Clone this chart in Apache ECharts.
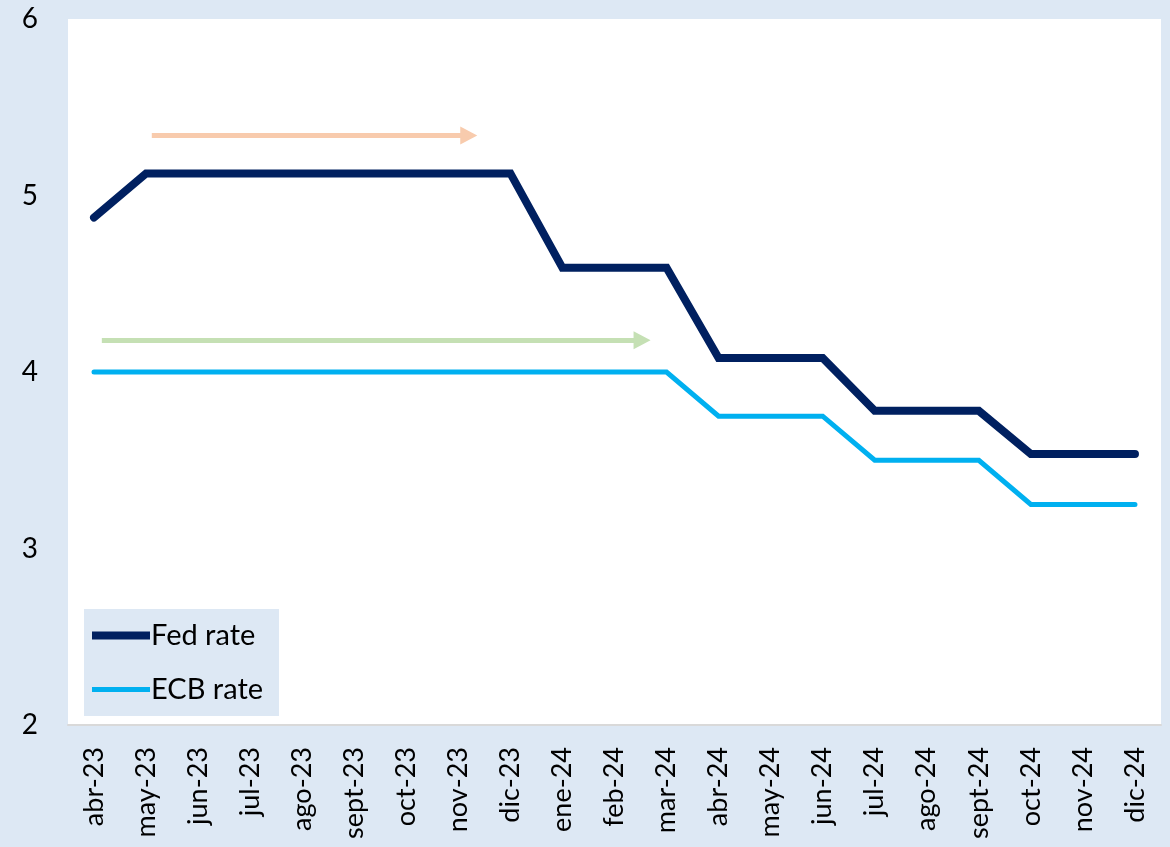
<!doctype html>
<html lang="es">
<head>
    <meta charset="UTF-8">
    <script type="text/javascript" src="https://cdn.jsdelivr.net/npm/echarts@6/dist/echarts.min.js"></script>
    <title>Fed vs ECB</title>
    <style>
        html, body { margin: 0; padding: 0; background: #dde8f4; }
    </style>
</head>
<body>
    <div id="main" style="width: 1170px;height:847px;"></div>
</body>
<script type="text/javascript">
    // meses
    var months = ['abr-23', 'may-23', 'jun-23', 'jul-23', 'ago-23', 'sept-23', 'oct-23', 'nov-23', 'dic-23',
        'ene-24', 'feb-24', 'mar-24', 'abr-24', 'may-24', 'jun-24', 'jul-24', 'ago-24', 'sept-24', 'oct-24', 'nov-24', 'dic-24'];
    var fedRate = [4.875, 5.125, 5.125, 5.125, 5.125, 5.125, 5.125, 5.125, 5.125,
        4.59, 4.59, 4.59, 4.08, 4.08, 4.08, 3.78, 3.78, 3.78, 3.535, 3.535, 3.535];
    var ecbRate = [4, 4, 4, 4, 4, 4, 4, 4, 4,
        4, 4, 4, 3.75, 3.75, 3.75, 3.5, 3.5, 3.5, 3.25, 3.25, 3.25];
    // flechas (indice de mes inicial, final, nivel)
    var orangeArrow = [1.11, 7.2, 5.34];
    var greenArrow = [0.15, 10.53, 4.18];

    var myChart = echarts.init(document.getElementById('main'));
    myChart.setOption({
        backgroundColor: '#dde8f4',
        textStyle: { fontFamily: 'Lato' },
        grid: {
            left: 68, right: 9, top: 19, bottom: 122,
            show: true, backgroundColor: '#ffffff', borderWidth: 0
        },
        legend: {
            left: 84, top: 609,
            orient: 'vertical',
            backgroundColor: '#dde8f4',
            padding: [12, 16, 12, 8],
            itemGap: 25,
            itemWidth: 58,
            itemHeight: 8,
            textStyle: { fontSize: 29, color: '#000', fontFamily: 'Lato', padding: [0, 0, 0, -4] },
            data: [
                { name: 'Fed rate', icon: 'path://M0,0 L58,0 L58,8 L0,8 Z', itemStyle: { color: '#002060' } },
                { name: 'ECB rate', icon: 'path://M0,1.5 L58,1.5 L58,6.5 L0,6.5 Z', itemStyle: { color: '#00b0f0' } }
            ]
        },
        xAxis: [
            {
                type: 'category',
                data: months,
                boundaryGap: true,
                axisLine: { show: true, lineStyle: { color: '#d9d9d9', width: 2 } },
                axisTick: { show: false },
                axisLabel: {
                    rotate: 90, interval: 0, fontSize: 27, color: '#000', margin: 22
                }
            },
            {
                type: 'value', min: -0.5, max: months.length - 0.5, show: false
            }
        ],
        yAxis: {
            type: 'value', min: 2, max: 6, interval: 1,
            axisLine: { show: false },
            axisTick: { show: false },
            splitLine: { show: false },
            axisLabel: { fontSize: 28, color: '#000', margin: 30, align: 'right' }
        },
        series: [
            {
                name: 'Fed rate', type: 'line', data: fedRate, symbol: 'none',
                lineStyle: { color: '#002060', width: 8, cap: 'round', join: 'miter' },
                itemStyle: { color: '#002060' }, z: 3
            },
            {
                name: 'ECB rate', type: 'line', data: ecbRate, symbol: 'none',
                lineStyle: { color: '#00b0f0', width: 5, cap: 'round', join: 'miter' },
                itemStyle: { color: '#00b0f0' }, z: 2
            },
            {
                name: 'arrows', type: 'line', xAxisIndex: 1, data: [], silent: true,
                markLine: {
                    silent: true,
                    symbol: ['none', 'triangle'],
                    symbolSize: [18, 17],
                    label: { show: false },
                    animation: false,
                    data: [
                        [
                            { coord: [orangeArrow[0], orangeArrow[2]], lineStyle: { color: '#f8cbad', width: 5, type: 'solid' } },
                            { coord: [orangeArrow[1], orangeArrow[2]] }
                        ],
                        [
                            { coord: [greenArrow[0], greenArrow[2]], lineStyle: { color: '#c5e0b4', width: 5, type: 'solid' } },
                            { coord: [greenArrow[1], greenArrow[2]] }
                        ]
                    ]
                }
            }
        ]
    });
</script>
</html>
